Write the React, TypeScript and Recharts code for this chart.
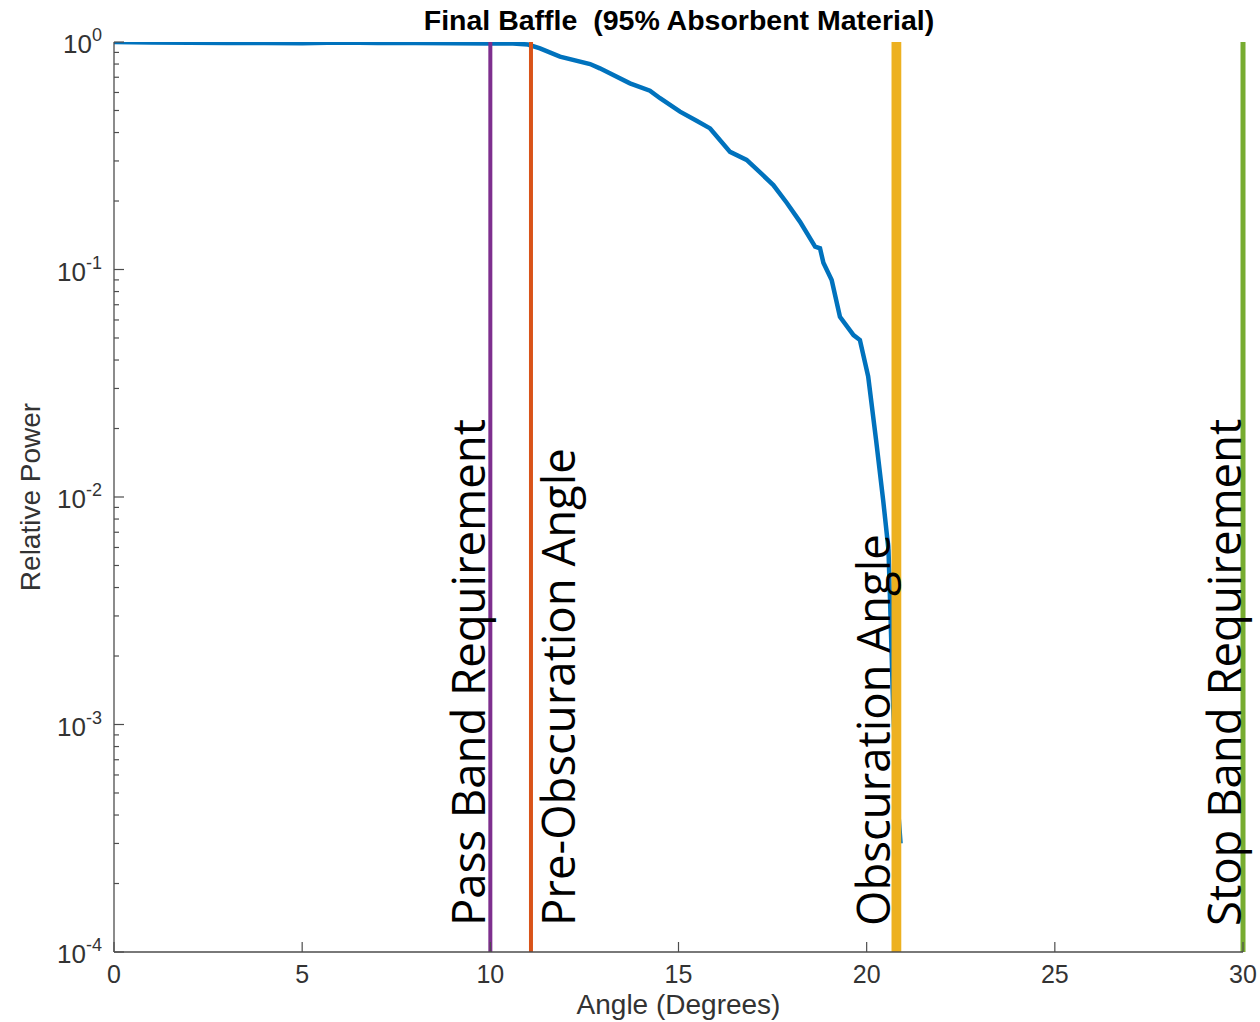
import { Line, LineChart, ReferenceLine, XAxis, YAxis } from 'recharts'

// angle in degrees, relative power (log scale)
const angles = [
  0, 1, 2, 3, 4, 5, 6, 7, 8, 9, 10, 10.6, 11.0, 11.32, 11.85, 12.65, 12.91, 13.71, 14.24, 14.51, 15.04,
  15.48, 15.84, 16.37, 16.81, 17.21, 17.52, 17.88, 18.23, 18.63, 18.76, 18.85, 19.07, 19.29, 19.65, 19.82,
  20.04, 20.25, 20.44, 20.58, 20.62, 20.7, 20.78, 20.9,
]
const power = [
  1.0, 0.995, 0.993, 0.99, 0.99, 0.988, 0.995, 0.99, 0.99, 0.988, 0.985, 0.985, 0.975, 0.938, 0.862, 0.8,
  0.766, 0.658, 0.611, 0.566, 0.494, 0.451, 0.417, 0.329, 0.303, 0.263, 0.235, 0.196, 0.162, 0.126, 0.124,
  0.107, 0.0899, 0.062, 0.0515, 0.049, 0.0339, 0.0178, 0.00963, 0.00585, 0.00357, 0.00128, 0.00057, 0.0003,
]

const xTicks = [0, 5, 10, 15, 20, 25, 30]
const decadeTicks = [1e-4, 1e-3, 1e-2, 1e-1, 1]
const decadeExponents = ['-4', '-3', '-2', '-1', '0']
const minorSteps = [2, 3, 4, 5, 6, 7, 8, 9]

const markerAngles = [10, 11.08, 20.74, 20.84, 30]
const markerLabels = ['Pass Band Requirement', 'Pre-Obscuration Angle', '', 'Obscuration Angle', 'Stop Band Requirement']

const data = angles.map((a, i) => ({ angle: a, power: power[i] }))
const yTicks = decadeTicks.flatMap((d, i) => (i < decadeTicks.length - 1 ? [d, ...minorSteps.map((m) => m * d)] : [d]))

const axisColor = '#4d4d4d'
const textColor = '#333333'
const font = '"Liberation Sans", Arial, sans-serif'

const markerColors = ['#7E2F8E', '#D95319', '#EDB120', '#EDB120', '#77AC30']
const markerWidths = [4, 4, 6, 6, 5]
const labelShift = [-5, 44, 0, -8, -2]

function YTick(props: any) {
  const { x, y, payload } = props
  const idx = decadeTicks.findIndex((d) => Math.abs(Math.log10(d) - Math.log10(payload.value)) < 1e-6)
  const major = idx >= 0
  return (
    <g>
      <line x1={x} x2={x + (major ? 10 : 5)} y1={y} y2={y} stroke={axisColor} strokeWidth={1.2} />
      {major ? (
        <text x={x - 12} y={y + 11} textAnchor="end" fill={textColor} fontFamily={font} fontSize={26}>
          <tspan>10</tspan>
          <tspan dy={-12} fontSize={18}>{decadeExponents[idx]}</tspan>
        </text>
      ) : null}
    </g>
  )
}

function XTick(props: any) {
  const { x, y, payload } = props
  return (
    <g>
      <line x1={x} x2={x} y1={y} y2={y - 10} stroke={axisColor} strokeWidth={1.2} />
      <text x={x} y={y + 31} textAnchor="middle" fill={textColor} fontFamily={font} fontSize={25}>
        {payload.value}
      </text>
    </g>
  )
}

function markerLabel(text: string, shift: number) {
  return (props: any) => {
    const vb = props.viewBox || {}
    if (!text) return null
    const bx = vb.x + shift
    const by = vb.y + vb.height - 26
    return (
      <text
        transform={`translate(${bx}, ${by}) rotate(-90)`}
        x={0}
        y={0}
        fill="#000"
        fontFamily='"Open Sans", sans-serif'
        fontSize={45.5}
      >
        {text}
      </text>
    )
  }
}

export default function App() {
  return (
    <div style={{ position: 'absolute', left: 0, top: 0, width: 1260, height: 1022, background: '#fff' }}>
      <LineChart width={1260} height={1022} data={data} margin={{ top: 42, right: 17, bottom: 0, left: 0 }}>
        <XAxis
          dataKey="angle"
          type="number"
          domain={[0, 30]}
          ticks={xTicks}
          interval={0}
          height={70}
          tickSize={0}
          tickMargin={0}
          tickLine={false}
          axisLine={{ stroke: axisColor, strokeWidth: 1.3 }}
          tick={XTick}
          label={(p: any) => (
            <text
              x={p.viewBox.x + p.viewBox.width / 2}
              y={p.viewBox.y + 62}
              textAnchor="middle"
              fill={textColor}
              fontFamily={font}
              fontSize={28}
            >
              Angle (Degrees)
            </text>
          )}
        />
        <YAxis
          type="number"
          scale="log"
          domain={[1e-4, 1]}
          allowDataOverflow
          ticks={yTicks}
          interval={0}
          width={114}
          tickSize={0}
          tickMargin={0}
          tickLine={false}
          axisLine={{ stroke: axisColor, strokeWidth: 1.3 }}
          tick={YTick}
          label={(p: any) => (
            <text
              transform={`translate(${p.viewBox.x + 40}, ${p.viewBox.y + p.viewBox.height / 2}) rotate(-90)`}
              textAnchor="middle"
              fill={textColor}
              fontFamily={font}
              fontSize={28}
            >
              Relative Power
            </text>
          )}
        />
        <Line
          type="linear"
          dataKey="power"
          stroke="#0072BD"
          strokeWidth={4.5}
          dot={false}
          isAnimationActive={false}
        />
        {markerAngles.map((a, i) => (
          <ReferenceLine
            key={i}
            x={a}
            stroke={markerColors[i]}
            strokeWidth={markerWidths[i]}
            label={markerLabel(markerLabels[i], labelShift[i])}
          />
        ))}
      </LineChart>
      <svg width={1260} height={60} style={{ position: 'absolute', left: 0, top: 0, pointerEvents: 'none' }}>
        <text
          x={679}
          y={30}
          textAnchor="middle"
          fontFamily={font}
          fontWeight="bold"
          fontSize={28.5}
          fill="#000"
          xmlSpace="preserve"
          style={{ whiteSpace: 'pre' }}
        >
          Final Baffle  (95% Absorbent Material)
        </text>
      </svg>
    </div>
  )
}
